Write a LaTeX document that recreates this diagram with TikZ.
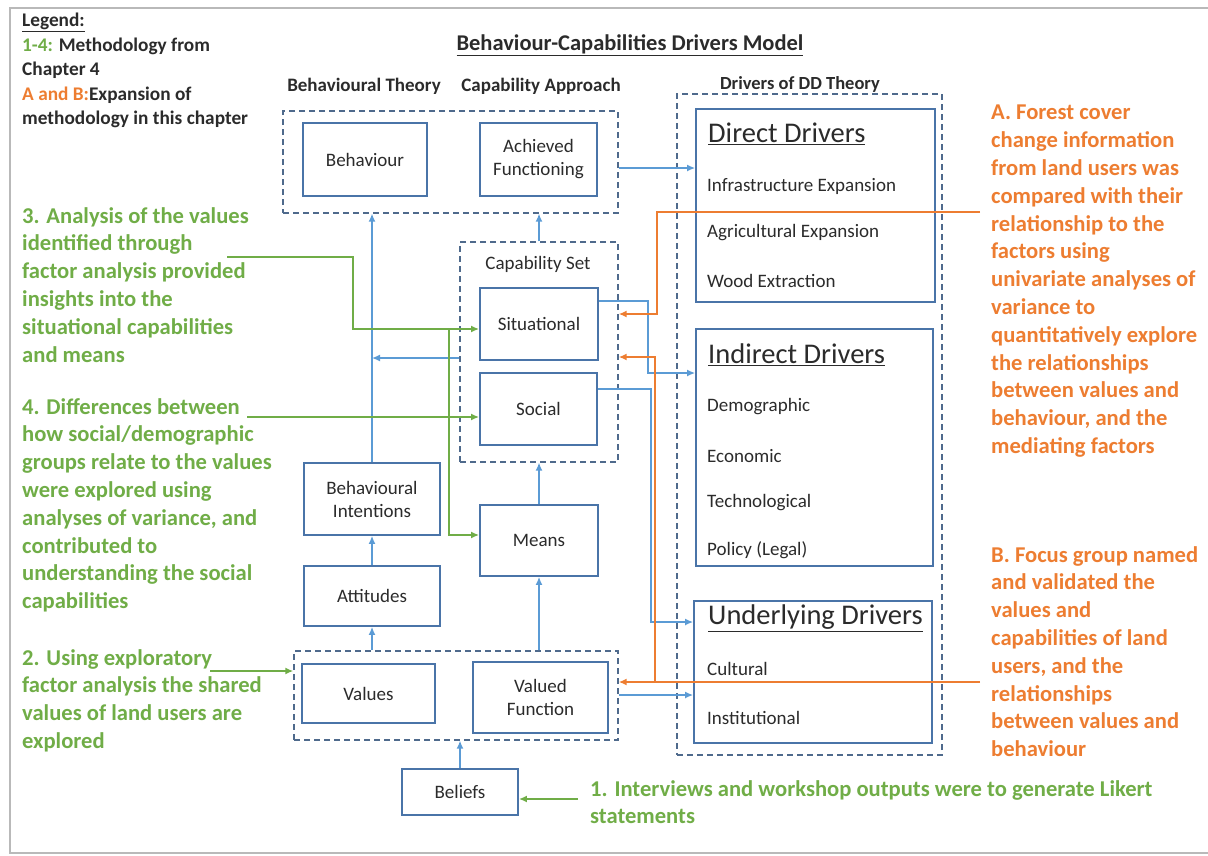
\documentclass[tikz,border=0pt]{standalone}
\usepackage{fontspec}
\setmainfont{Carlito}
\usetikzlibrary{arrows.meta,calc}
\definecolor{boxblue}{HTML}{4A74A8}
\definecolor{lineblue}{HTML}{5B9BD5}
\definecolor{dashgrey}{HTML}{4F6A8C}
\definecolor{leafgreen}{HTML}{70AD47}
\definecolor{warmorange}{HTML}{ED7D31}
\definecolor{inkgrey}{HTML}{2B2B2B}
\begin{document}
\begin{tikzpicture}[x=1pt,y=-1pt,
  box/.style={draw=boxblue, line width=1.8pt, fill=white, inner sep=0pt,
    align=center, text=inkgrey, font=\fontsize{19}{23}\selectfont},
  group/.style={draw=dashgrey, line width=1.3pt, dash pattern=on 6pt off 4pt, inner sep=0pt},
  tip/.style={-{Latex[length=8pt,width=7pt]}},
  blueline/.style={draw=lineblue, line width=1.4pt},
  greenline/.style={draw=leafgreen, line width=1.8pt},
  orangeline/.style={draw=warmorange, line width=1.8pt},
  header/.style={inner sep=0pt, text=inkgrey, font=\bfseries\fontsize{19}{23}\selectfont},
  note/.style={inner sep=0pt, anchor=north west, align=left, font=\bfseries\fontsize{22.6}{27.8}\selectfont},
  item/.style={inner sep=0pt, anchor=west, text=inkgrey, font=\fontsize{19}{23}\selectfont},
  drvhead/.style={inner sep=0pt, anchor=west, text=inkgrey, font=\fontsize{28.5}{32}\selectfont}
]
\useasboundingbox (0,0) rectangle (1208,855);
% outer frame
\draw[gray!55, line width=1.5pt] (1212,8) -- (10,8) -- (10,853) -- (1212,853);

% legend and title
\node[inner sep=0pt, anchor=north west, align=left, text=inkgrey,
      font=\bfseries\fontsize{19.3}{24.5}\selectfont] (legend) at (22,13)
  {\underline{Legend:}\\
   \textcolor{leafgreen}{1-4:} Methodology from\\
   Chapter 4\\
   \textcolor{warmorange}{A and B:}Expansion of\\
   methodology in this chapter};
\node[header, font=\bfseries\fontsize{22.5}{26}\selectfont] (title) at (630,45)
  {\underline{Behaviour-Capabilities Drivers Model}};
\node[header] (hbt) at (364,86) {Behavioural Theory};
\node[header] (hca) at (541,86) {Capability Approach};
\node[header, font=\bfseries\fontsize{18.5}{21}\selectfont] (hdd) at (800,84) {Drivers of DD Theory};

% dashed groupings
\node[group, minimum width=335pt, minimum height=102pt] (topgrp) at (450.5,162) {};
\node[group, minimum width=158pt, minimum height=220pt] (capgrp) at (539,352) {};
\node[group, minimum width=324pt, minimum height=89pt] (valgrp) at (456,695.5) {};
\node[group, minimum width=265pt, minimum height=661pt] (drvgrp) at (809.5,424.5) {};
\node[item, anchor=center] (capset) at (538,264) {Capability Set};

% model boxes
\node[box, minimum width=124pt, minimum height=73pt] (beh) at (365,159.5) {Behaviour};
\node[box, minimum width=117pt, minimum height=73pt] (ach) at (538.5,159.5) {Achieved\\Functioning};
\node[box, minimum width=118pt, minimum height=72pt] (sit) at (539,324) {Situational};
\node[box, minimum width=117pt, minimum height=72pt] (soc) at (538.5,409) {Social};
\node[box, minimum width=118pt, minimum height=71pt] (means) at (539,540.5) {Means};
\node[box, minimum width=136pt, minimum height=72pt] (bi) at (372,499) {Behavioural\\Intentions};
\node[box, minimum width=136pt, minimum height=60pt] (att) at (372,596) {Attitudes};
\node[box, minimum width=133pt, minimum height=59pt] (val) at (368.5,693.5) {Values};
\node[box, minimum width=135pt, minimum height=71pt] (vf) at (540.5,697.5) {Valued\\Function};
\node[box, minimum width=116pt, minimum height=46pt] (bel) at (460,792) {Beliefs};

% drivers boxes
\node[box, minimum width=239pt, minimum height=193pt] (dd) at (815.5,205.5) {};
\node[box, minimum width=237pt, minimum height=237pt] (id) at (814.5,447.5) {};
\node[box, minimum width=238pt, minimum height=142pt] (ud) at (813,672) {};
\node[drvhead] (ddh) at (708,134) {\underline{Direct Drivers}};
\node[item] (dd1) at (707,186) {Infrastructure Expansion};
\node[item] (dd2) at (707,233) {Agricultural Expansion};
\node[item] (dd3) at (707,281) {Wood Extraction};
\node[drvhead] (idh) at (708,355) {\underline{Indirect Drivers}};
\node[item] (id1) at (707,407) {Demographic};
\node[item] (id2) at (707,456) {Economic};
\node[item] (id3) at (707,503) {Technological};
\node[item] (id4) at (707,550) {Policy (Legal)};
\node[drvhead] (udh) at (708,618) {\underline{Underlying Drivers}};
\node[item] (ud1) at (707,669) {Cultural};
\node[item] (ud2) at (707,718) {Institutional};

% annotations
\node[note, text=leafgreen] (n3) at (22,207)
  {3. Analysis of the values\\identified through\\factor analysis provided\\insights into the\\situational capabilities\\and means};
\node[note, text=leafgreen] (n4) at (22,398)
  {4. Differences between\\how social/demographic\\groups relate to the values\\were explored using\\analyses of variance, and\\contributed to\\understanding the social\\capabilities};
\node[note, text=leafgreen] (n2) at (22,649)
  {2. Using exploratory\\factor analysis the shared\\values of land users are\\explored};
\node[note, text=leafgreen] (n1) at (590,780)
  {1. Interviews and workshop outputs were to generate Likert\\statements};
\node[note, text=warmorange] (na) at (991,105)
  {A. Forest cover\\change information\\from land users was\\compared with their\\relationship to the\\factors using\\univariate analyses of\\variance to\\quantitatively explore\\the relationships\\between values and\\behaviour, and the\\mediating factors};
\node[note, text=warmorange] (nb) at (991,546)
  {B. Focus group named\\and validated the\\values and\\capabilities of land\\users, and the\\relationships\\between values and\\behaviour};

% line start points at the annotations
\coordinate (s3) at (227,257);
\coordinate (s4) at (247,417);
\coordinate (s2) at (210,671);
\coordinate (s1) at (578,799);
\coordinate (sa) at (980,212);
\coordinate (sb) at (980,682);

% blue model connectors
\draw[blueline, tip] (bi.north) -- (bi.north |- topgrp.south);
\draw[blueline, tip] ($(capgrp.west)+(0,6)$) -- (bi.north |- {$(capgrp.west)+(0,6)$});
\draw[blueline, tip] (capgrp.north) -- (capgrp.north |- topgrp.south);
\draw[blueline, tip] (means.north) -- (means.north |- capgrp.south);
\draw[blueline, tip] (att.north) -- (bi.south);
\draw[blueline, tip] (att.south |- valgrp.north) -- (att.south);
\draw[blueline, tip] (means.south |- valgrp.north) -- (means.south);
\draw[blueline, tip] (bel.north) -- (bel.north |- valgrp.south);
\draw[blueline, tip] (topgrp.east |- 0,168) -- (dd.west |- 0,168);
\draw[blueline, tip] (sit.east |- 0,301) -- (648,301) -- (648,373) -- (id.west |- 0,373);
\draw[blueline, tip] (soc.east |- 0,389) -- (651,389) -- (651,622) -- (ud.west |- 0,622);
\draw[blueline, tip] (valgrp.east |- 0,695) -- (ud.west |- 0,695);

% orange annotation connectors
\draw[orangeline, tip] (sa) -- (657,212) -- (657,314) -- (capgrp.east |- 0,314);
\draw[orangeline, tip] (sb) -- (valgrp.east |- sb);
\draw[orangeline, tip] (655,682) -- (655,357) -- (capgrp.east |- 0,357);

% green annotation connectors
\draw[greenline, tip] (s3) -- (353,257) -- (353,329) -- (sit.west |- 0,329);
\draw[greenline, tip] (449,329) -- (449,535) -- (means.west |- 0,535);
\draw[greenline, tip] (s4) -- (soc.west |- s4);
\draw[greenline, tip] (s2) -- (valgrp.west |- s2);
\draw[greenline, tip] (s1) -- (bel.east |- s1);
\end{tikzpicture}
\end{document}
